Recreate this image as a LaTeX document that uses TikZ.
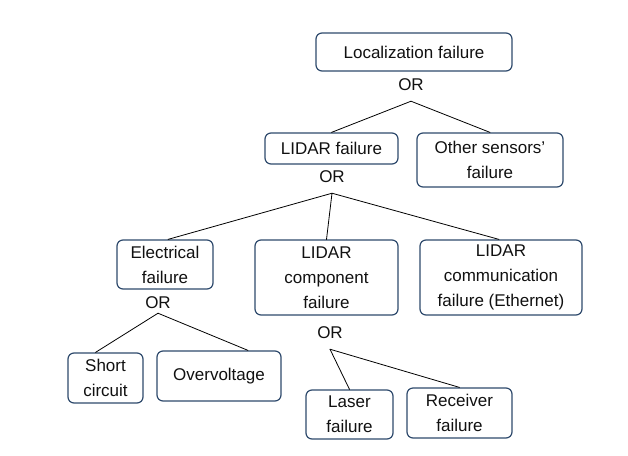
\documentclass[tikz,border=0pt]{standalone}
\usepackage{fontspec}
\setmainfont{Liberation Sans}
\usetikzlibrary{positioning}
\definecolor{treeEdge}{HTML}{2F4A6D}
\definecolor{treeInk}{HTML}{111111}
\begin{document}
\begin{tikzpicture}[x=1pt,y=-1pt,line cap=round,line join=round]
\path[fill=white,use as bounding box] (0,0) rectangle (628,455);
\tikzset{event/.style={draw=treeEdge,line width=1.2pt,rounded corners=6pt,align=center,text=treeInk,font=\fontsize{17}{25}\selectfont,inner sep=0pt},gate/.style={text=treeInk,font=\fontsize{17}{25}\selectfont,inner xsep=1pt,inner ysep=10pt},link/.style={draw=black,line width=0.8pt}}
\node[event,minimum width=196pt,minimum height=38pt] (loc) at (414,52) {Localization failure};
\node[gate] (orA) at (411,85) {OR};
\node[event,minimum width=133pt,minimum height=31pt] (lidar) at (331.5,148.5) {LIDAR failure};
\node[event,minimum width=146pt,minimum height=54pt] (other) at (490,160) {Other sensors'\\failure};
\node[gate] (orB) at (332,177) {OR};
\node[event,minimum width=96pt,minimum height=49pt] (elec) at (165,264.5) {Electrical\\failure};
\node[event,minimum width=143pt,minimum height=75pt] (comp) at (326.5,277.5) {LIDAR\\component\\failure};
\node[event,minimum width=162pt,minimum height=75pt] (comm) at (501,277.5) {LIDAR\\communication\\failure (Ethernet)};
\node[gate,inner ysep=4pt] (orC) at (158,303) {OR};
\node[event,minimum width=75pt,minimum height=50pt] (short) at (105.5,378) {Short\\circuit};
\node[event,minimum width=124pt,minimum height=50pt] (over) at (219,376) {Overvoltage};
\node[gate] (orD) at (330,333) {OR};
\node[event,minimum width=87pt,minimum height=49pt] (laser) at (349.5,414.5) {Laser\\failure};
\node[event,minimum width=105pt,minimum height=50pt] (recv) at (459.5,413) {Receiver\\failure};
\draw[link] (orA.south) -- (lidar.north); \draw[link] (orA.south) -- (other.north);
\draw[link] (orB.south) -- ([xshift=3pt]elec.north); \draw[link] (orB.south) -- (comp.north); \draw[link] (orB.south) -- ([xshift=-2pt]comm.north);
\draw[link] (orC.south) -- ([xshift=-10pt]short.north); \draw[link] (orC.south) -- ([xshift=29pt]over.north);
\draw[link] (orD.south) -- (laser.north); \draw[link] (orD.south) -- (recv.north);
\end{tikzpicture}
\end{document}
